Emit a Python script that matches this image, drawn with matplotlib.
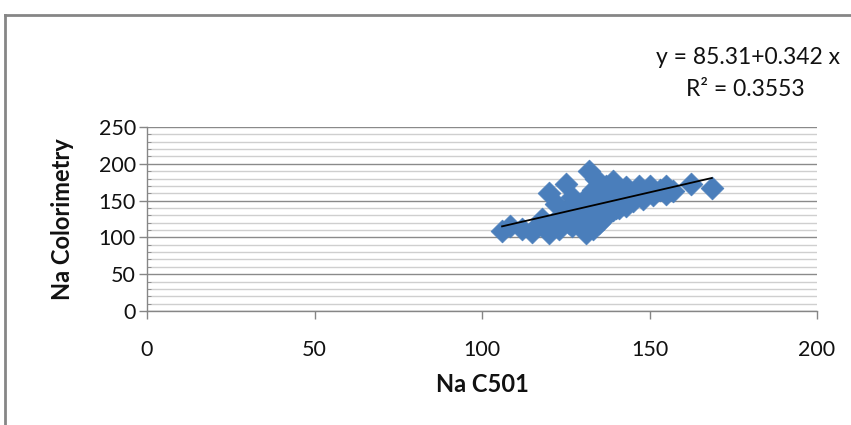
import matplotlib
matplotlib.use("Agg")
import matplotlib.pyplot as plt
from matplotlib.lines import Line2D
from matplotlib.ticker import MultipleLocator

plt.rcParams['font.family'] = ['Lato', 'DejaVu Sans']

# data (Na C501 vs Na Colorimetry)
na_c501 = [106, 108.5, 112, 115, 117, 120, 120, 122, 124, 125, 126, 127, 128, 129,
           130, 131, 132, 132, 133, 133, 134, 134, 135, 136, 136, 137, 138, 138,
           139, 140, 140, 141, 142, 143, 144, 145, 146, 147, 148, 149, 150, 151,
           153, 155, 155, 157, 162.5, 168.6,
           118, 121, 123, 125, 127, 128, 130, 131, 133, 135, 137, 139, 141, 143]
na_color = [109, 115, 112, 108, 118, 106, 160, 145, 130, 173, 120, 155, 140, 128,
            150, 106, 120, 190, 165, 140, 130, 180, 155, 145, 125, 170, 160, 135,
            176, 150, 140, 165, 145, 168, 155, 150, 160, 170, 152, 160, 170, 158,
            165, 170, 159, 163, 173, 167,
            125, 118, 112, 135, 115, 122, 135, 118, 112, 120, 133, 137, 140, 143]

# linear trend line as drawn (end points)
trend_x = [106, 168.6]
trend_y = [115, 180.7]

eq_text = "y = 85.31+0.342 x"
r2_text = "R² = 0.3553"

fig = plt.figure(figsize=(8.51, 4.25), dpi=100)
ax = fig.add_axes([147 / 851, 1 - 311 / 425, 670 / 851, 184 / 425])

ax.scatter(na_c501, na_color, marker='D', s=135, color='#4a7ebb', edgecolors='#4a7ebb',
           linewidths=0.5, zorder=3)
ax.plot(trend_x, trend_y, color='black', lw=1.3, zorder=4)

ax.set_xlim(0, 200)
ax.set_ylim(0, 250)
ax.xaxis.set_major_locator(MultipleLocator(50))
ax.yaxis.set_major_locator(MultipleLocator(50))
ax.yaxis.set_minor_locator(MultipleLocator(10))

# gridlines
ax.grid(which='major', axis='y', color='#8a8a8a', lw=1, zorder=1)
ax.grid(which='minor', axis='y', color='#cfcfcf', lw=1, zorder=0)
ax.grid(which='major', axis='x', visible=False)

for s in ['top', 'right']:
    ax.spines[s].set_visible(False)
for s in ['left', 'bottom']:
    ax.spines[s].set_color('#868686')
    ax.spines[s].set_linewidth(1)

ax.tick_params(axis='both', which='major', length=6, width=1, color='#868686',
               labelsize=15.5, labelcolor='#111111', pad=2)
ax.tick_params(axis='y', which='minor', direction='in', length=3, color='#868686')
ax.tick_params(axis='x', which='major', pad=15)

fig.text(62 / 851, 1 - 219 / 425, "Na Colorimetry", rotation=90, ha='center', va='center',
         fontsize=17, fontweight='bold', color='#111111')
fig.text(482 / 851, 1 - 385 / 425, "Na C501", ha='center', va='center',
         fontsize=17, fontweight='bold', color='#111111')

fig.text(748 / 851, 1 - 57 / 425, eq_text, ha='center', va='center', fontsize=16.5, color='#111111')
fig.text(745 / 851, 1 - 90 / 425, r2_text, ha='center', va='center', fontsize=16.5, color='#111111')

# outer chart frame
fig.add_artist(Line2D([5 / 851, 5 / 851], [0, 1 - 15 / 425], transform=fig.transFigure,
                      color='#868686', lw=2))
fig.add_artist(Line2D([5 / 851, 1], [1 - 15 / 425, 1 - 15 / 425], transform=fig.transFigure,
                      color='#868686', lw=2))

fig.savefig('out.png', dpi=100)
